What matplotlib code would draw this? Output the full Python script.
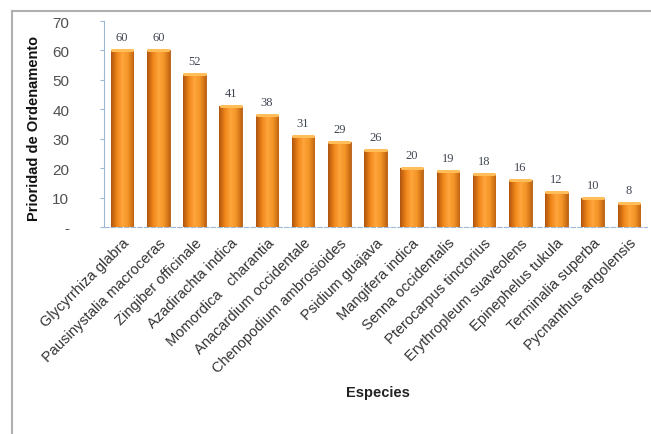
import matplotlib
matplotlib.use("Agg")
import matplotlib.pyplot as plt
import numpy as np
from matplotlib.lines import Line2D
from matplotlib.colors import LinearSegmentedColormap

species = ["Glycyrrhiza glabra", "Pausinystalia macroceras", "Zingiber officinale",
           "Azadirachta indica", "Momordica   charantia", "Anacardium occidentale",
           "Chenopodium ambrosioides", "Psidium guajava", "Mangifera indica",
           "Senna occidentalis", "Pterocarpus tinctorius", "Erythropleum suaveolens",
           "Epinephelus tukula", "Terminalia superba", "Pycnanthus angolensis"]
values = [60, 60, 52, 41, 38, 31, 29, 26, 20, 19, 18, 16, 12, 10, 8]
yticks = [0, 10, 20, 30, 40, 50, 60, 70]
ytick_labels = ["-", "10", "20", "30", "40", "50", "60", "70"]

fig = plt.figure(figsize=(6.51, 4.35), dpi=100)
ax = fig.add_axes([104/651, 1-228/435, (647-104)/651, (228-22)/435])

x = np.arange(len(species))
bars = ax.bar(x, values, width=0.62, color="#F28A1C", edgecolor="#B05A12", linewidth=0.6, zorder=2)

cmap = LinearSegmentedColormap.from_list("cyl", ["#B05510", "#EE8418", "#FFA63C", "#F39426", "#C26512"])
grad = np.linspace(0, 1, 64).reshape(1, -1)
for b in bars:
    x0, w, h = b.get_x(), b.get_width(), b.get_height()
    im = ax.imshow(grad, cmap=cmap, extent=[x0, x0 + w, 0, h], aspect="auto", zorder=3)
    im.set_clip_path(b)
    ax.plot([x0 + 0.03, x0 + w - 0.03], [h, h], color="#FFBE5A", lw=2.2, solid_capstyle="round", zorder=4)

for xi, v in zip(x, values):
    ax.text(xi, v + 2.4, str(v), ha="center", va="bottom", fontsize=9,
            family="Liberation Serif", color="#404652")

ax.set_xlim(-0.5, len(species) - 0.5)
ax.set_ylim(0, 70)
ax.set_yticks(yticks)
ax.set_yticklabels(ytick_labels, fontsize=11, color="#505050", family="Liberation Sans")
ax.set_xticks(x)
ax.set_xticklabels(species, rotation=45, ha="right", rotation_mode="anchor",
                   fontsize=10.5, color="#333333", family="Liberation Sans")
ax.tick_params(axis="x", length=0, pad=6)
ax.tick_params(axis="y", length=3, color="#9DB7D5", pad=22)
for s in ["top", "right"]:
    ax.spines[s].set_visible(False)
ax.spines["left"].set_color("#9DB7D5")
ax.spines["bottom"].set_color("#9DB7D5")
ax.spines["bottom"].set_linestyle((0, (4, 2)))

fig.text(34/651, 1-128/435, "Prioridad de Ordenamento", rotation=90, ha="center", va="center",
         fontsize=10.5, fontweight="bold", family="Liberation Sans", color="#111111")
fig.text(378/651, 1-393/435, "Especies", ha="center", va="center", fontsize=10.5,
         fontweight="bold", family="Liberation Sans", color="#222222")

fig.add_artist(Line2D([12/651, 12/651], [0, 1-12/435], color="#B0B0B0", lw=1.5, transform=fig.transFigure))
fig.add_artist(Line2D([12/651, 1], [1-12/435, 1-12/435], color="#B0B0B0", lw=1.5, transform=fig.transFigure))

fig.savefig("out.png", dpi=100)
